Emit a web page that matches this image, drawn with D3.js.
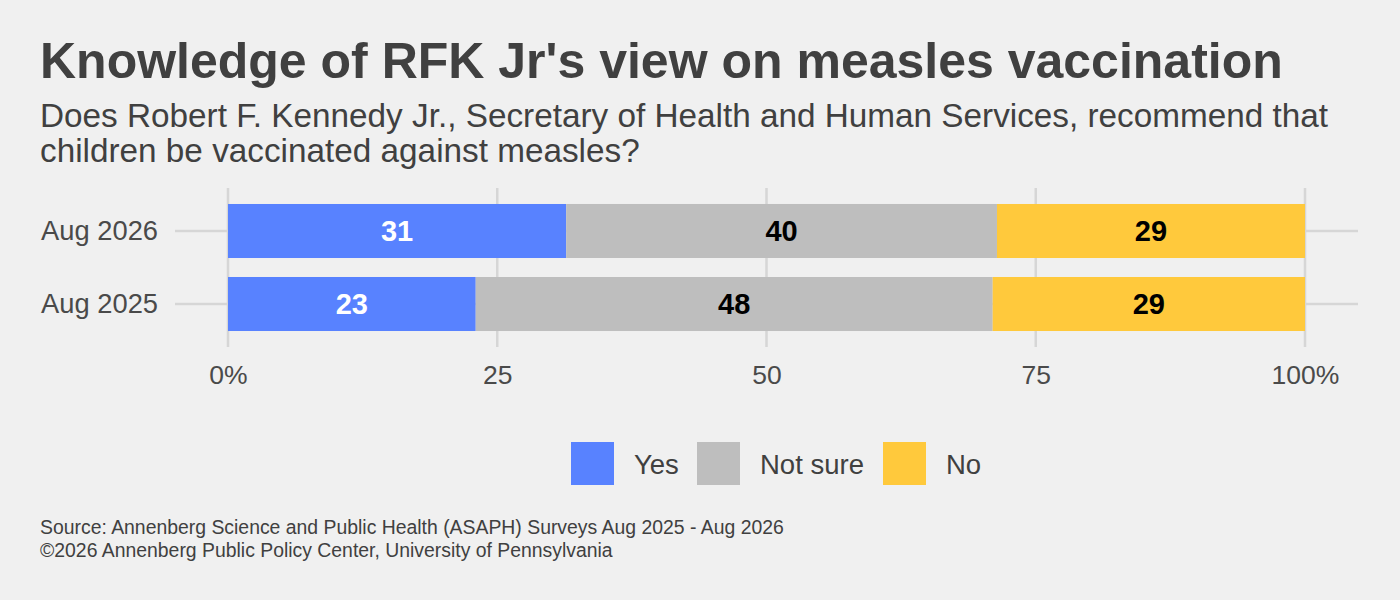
<!DOCTYPE html>
<html><head><meta charset="utf-8">
<script src="https://cdn.jsdelivr.net/npm/d3@7"></script>
<style>
html,body{margin:0;padding:0;background:#f0f0f0;}
svg{display:block;font-family:"Liberation Sans",Arial,sans-serif;}
</style></head><body>
<svg id="chart" width="1400" height="600"></svg>
<script>
const categories = ["Aug 2026", "Aug 2025"];
const seriesNames = ["Yes", "Not sure", "No"];
const yesValues = [31.4, 23.0];
const notSureValues = [40.0, 48.0];
const noValues = [28.6, 29.0];
const labelValues = [[31, 40, 29], [23, 48, 29]];
const xTicks = [0, 25, 50, 75, 100];
const xTickLabels = ["0%", "25", "50", "75", "100%"];
const colors = ["#5882ff", "#bebebe", "#ffc93c"];
const labelColors = ["#ffffff", "#000000", "#000000"];

const svg = d3.select("#chart");
svg.append("rect").attr("width",1400).attr("height",600).attr("fill","#f0f0f0");

const txt = "#404040";
svg.append("text").attr("x",40).attr("y",78).attr("font-size",50).attr("font-weight","bold")
  .attr("fill",txt).text("Knowledge of RFK Jr's view on measles vaccination");
svg.append("text").attr("x",40).attr("y",127).attr("font-size",33.3).attr("fill",txt)
  .text("Does Robert F. Kennedy Jr., Secretary of Health and Human Services, recommend that");
svg.append("text").attr("x",40).attr("y",162).attr("font-size",33.3).attr("fill",txt)
  .text("children be vaccinated against measles?");

const panel = {left:175, right:1358, top:188, bottom:347};
const x = d3.scaleLinear().domain([0,100]).range([228,1305]);
const y = d3.scaleBand().domain(categories).range([panel.top,panel.bottom]).paddingInner(0.26).paddingOuter(0.219);

const g = svg.append("g");
g.selectAll(".vg").data(xTicks).join("line")
  .attr("x1",d=>x(d)).attr("x2",d=>x(d)).attr("y1",panel.top).attr("y2",panel.bottom)
  .attr("stroke","#d6d6d6").attr("stroke-width",2.5);
g.selectAll(".hg").data(categories).join("line")
  .attr("x1",panel.left).attr("x2",panel.right)
  .attr("y1",d=>y(d)+y.bandwidth()/2).attr("y2",d=>y(d)+y.bandwidth()/2)
  .attr("stroke","#d6d6d6").attr("stroke-width",2.5);

const stackData = categories.map((c,i)=>({cat:c, "Yes":yesValues[i], "Not sure":notSureValues[i], "No":noValues[i], idx:i}));
const stack = d3.stack().keys(seriesNames)(stackData);

stack.forEach((layer,si)=>{
  const lg = g.append("g");
  lg.selectAll("rect").data(layer).join("rect")
    .attr("x",d=>x(d[0])).attr("width",d=>x(d[1])-x(d[0]))
    .attr("y",d=>y(d.data.cat)).attr("height",y.bandwidth())
    .attr("fill",colors[si]);
  lg.selectAll("text").data(layer).join("text")
    .attr("x",d=>x((d[0]+d[1])/2)).attr("y",d=>y(d.data.cat)+y.bandwidth()/2)
    .attr("dy","0.36em").attr("text-anchor","middle").attr("font-size",29).attr("font-weight","bold")
    .attr("fill",labelColors[si]).text(d=>labelValues[d.data.idx][si]);
});

const xa = svg.append("g").attr("transform",`translate(0,${panel.bottom})`)
  .call(d3.axisBottom(x).tickValues(xTicks).tickFormat((d,i)=>xTickLabels[i]).tickSize(0).tickPadding(18));
xa.select(".domain").remove();
xa.selectAll("text").attr("font-size",26.5).attr("fill","#4a4a4a").attr("font-family","Liberation Sans, Arial, sans-serif");

const ya = svg.append("g").attr("transform",`translate(${panel.left},0)`)
  .call(d3.axisLeft(y).tickSize(0).tickPadding(17));
ya.select(".domain").remove();
ya.selectAll("text").attr("font-size",27.3).attr("fill","#4a4a4a").attr("font-family","Liberation Sans, Arial, sans-serif");

const legX = [571, 697, 883];
const lgd = svg.append("g");
seriesNames.forEach((s,i)=>{
  lgd.append("rect").attr("x",legX[i]).attr("y",442).attr("width",43).attr("height",43).attr("fill",colors[i]);
  lgd.append("text").attr("x",legX[i]+63).attr("y",474).attr("font-size",27.5).attr("fill",txt).text(s);
});

svg.append("text").attr("x",40).attr("y",534).attr("font-size",19.4).attr("fill",txt)
  .text("Source: Annenberg Science and Public Health (ASAPH) Surveys Aug 2025 - Aug 2026");
svg.append("text").attr("x",40).attr("y",557).attr("font-size",19.4).attr("fill",txt)
  .text("©2026 Annenberg Public Policy Center, University of Pennsylvania");
</script>
</body></html>
